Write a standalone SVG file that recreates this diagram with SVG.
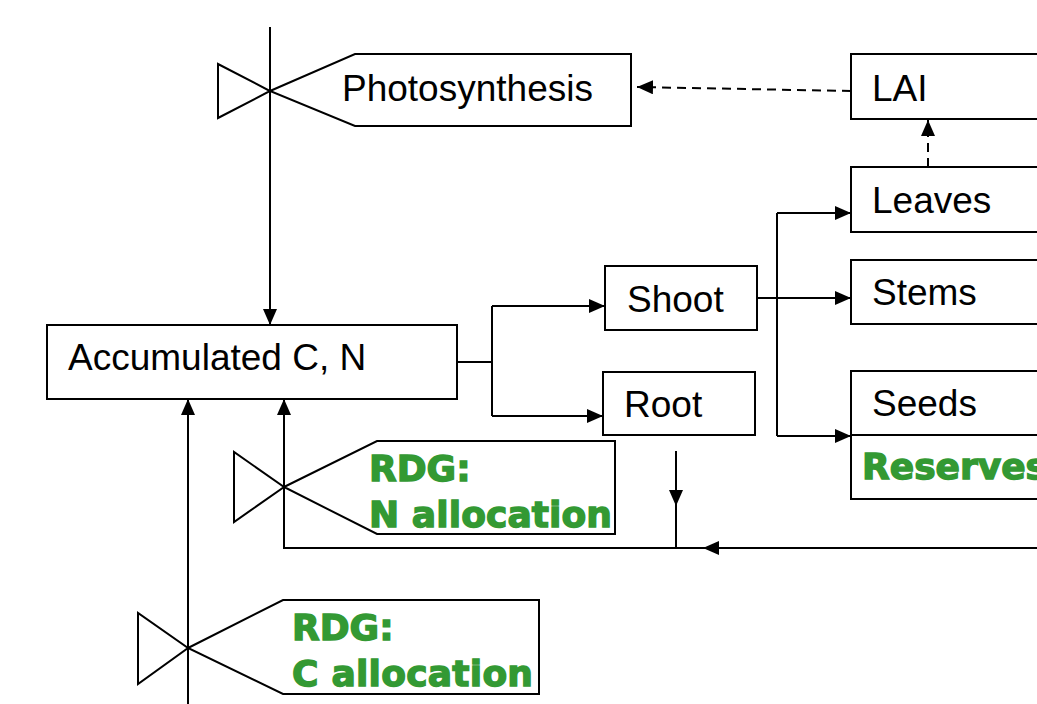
<svg xmlns="http://www.w3.org/2000/svg" width="1037" height="704" viewBox="0 0 1037 704">
<style>
.box{fill:#fff;stroke:#000;stroke-width:2}
.ln{fill:none;stroke:#000;stroke-width:2}
.dash{fill:none;stroke:#000;stroke-width:2;stroke-dasharray:9 6}
.t{font-family:"Liberation Sans",Arial,sans-serif;font-size:37px;fill:#000}
.g{font-family:"DejaVu Sans",sans-serif;font-weight:bold;font-size:36px;fill:#339933;stroke:#339933;stroke-width:1.4}
</style>
<defs>
<marker id="ah" markerWidth="16" markerHeight="14" refX="16" refY="7" orient="auto" markerUnits="userSpaceOnUse"><path d="M0,0 L16,7 L0,14 z" fill="#000"/></marker>
</defs>
<rect width="1037" height="704" fill="#fff"/>
<g id="photosynthesis">
<polygon class="box" points="218,64 218,118 270,91"/>
<polygon class="box" points="270,91 355,54 631,54 631,126 355,126"/>
<text class="t" x="342" y="101">Photosynthesis</text>
</g>
<g id="lai">
<rect class="box" x="851" y="54" width="200" height="65"/>
<text class="t" x="872" y="101">LAI</text>
</g>
<g id="leaves">
<rect class="box" x="851" y="167" width="200" height="65"/>
<text class="t" x="872" y="213">Leaves</text>
</g>
<g id="stems">
<rect class="box" x="851" y="260" width="200" height="64"/>
<text class="t" x="872" y="305">Stems</text>
</g>
<g id="seeds">
<rect class="box" x="851" y="371" width="200" height="128"/>
<line class="ln" x1="851" y1="435" x2="1051" y2="435"/>
<text class="t" x="872" y="416">Seeds</text>
<text class="g" x="862" y="479">Reserves</text>
</g>
<g id="accumulated">
<rect class="box" x="47" y="325" width="410" height="74"/>
<text class="t" x="68" y="370">Accumulated C, N</text>
</g>
<g id="shoot">
<rect class="box" x="605" y="266" width="152" height="64"/>
<text class="t" x="627" y="312">Shoot</text>
</g>
<g id="root">
<rect class="box" x="603" y="372" width="152" height="63"/>
<text class="t" x="624" y="417">Root</text>
</g>
<g id="rdg-n">
<polygon class="box" points="234,452 234,522 284,487"/>
<polygon class="box" points="284,487 377,441 615,441 615,534 377,534"/>
<text class="g" x="369" y="481">RDG:</text>
<text class="g" x="369" y="527" textLength="243">N allocation</text>
</g>
<g id="rdg-c">
<polygon class="box" points="138,613 138,684 188,648"/>
<polygon class="box" points="188,648 283,600 539,600 539,694 283,694"/>
<text class="g" x="292" y="640">RDG:</text>
<text class="g" x="292" y="686" textLength="241">C allocation</text>
</g>
<g id="connectors">
<path class="ln" d="M270,27 V325" marker-end="url(#ah)"/>
<path class="dash" d="M851,91 L637,87" marker-end="url(#ah)"/>
<path class="dash" d="M928,167 V120" marker-end="url(#ah)"/>
<path class="ln" d="M457,362 H492"/>
<path class="ln" d="M492,306 V416"/>
<path class="ln" d="M492,306 H605" marker-end="url(#ah)"/>
<path class="ln" d="M492,416 H603" marker-end="url(#ah)"/>
<path class="ln" d="M757,298 H851" marker-end="url(#ah)"/>
<path class="ln" d="M777,213 V436"/>
<path class="ln" d="M777,213 H851" marker-end="url(#ah)"/>
<path class="ln" d="M777,436 H851" marker-end="url(#ah)"/>
<path class="ln" d="M676,451 V506" marker-end="url(#ah)"/>
<path class="ln" d="M676,505 V548"/>
<path class="ln" d="M1040,548 H703" marker-end="url(#ah)"/>
<path class="ln" d="M704,548 H284 V399" marker-end="url(#ah)"/>
<path class="ln" d="M188,704 V399" marker-end="url(#ah)"/>
</g>
</svg>
